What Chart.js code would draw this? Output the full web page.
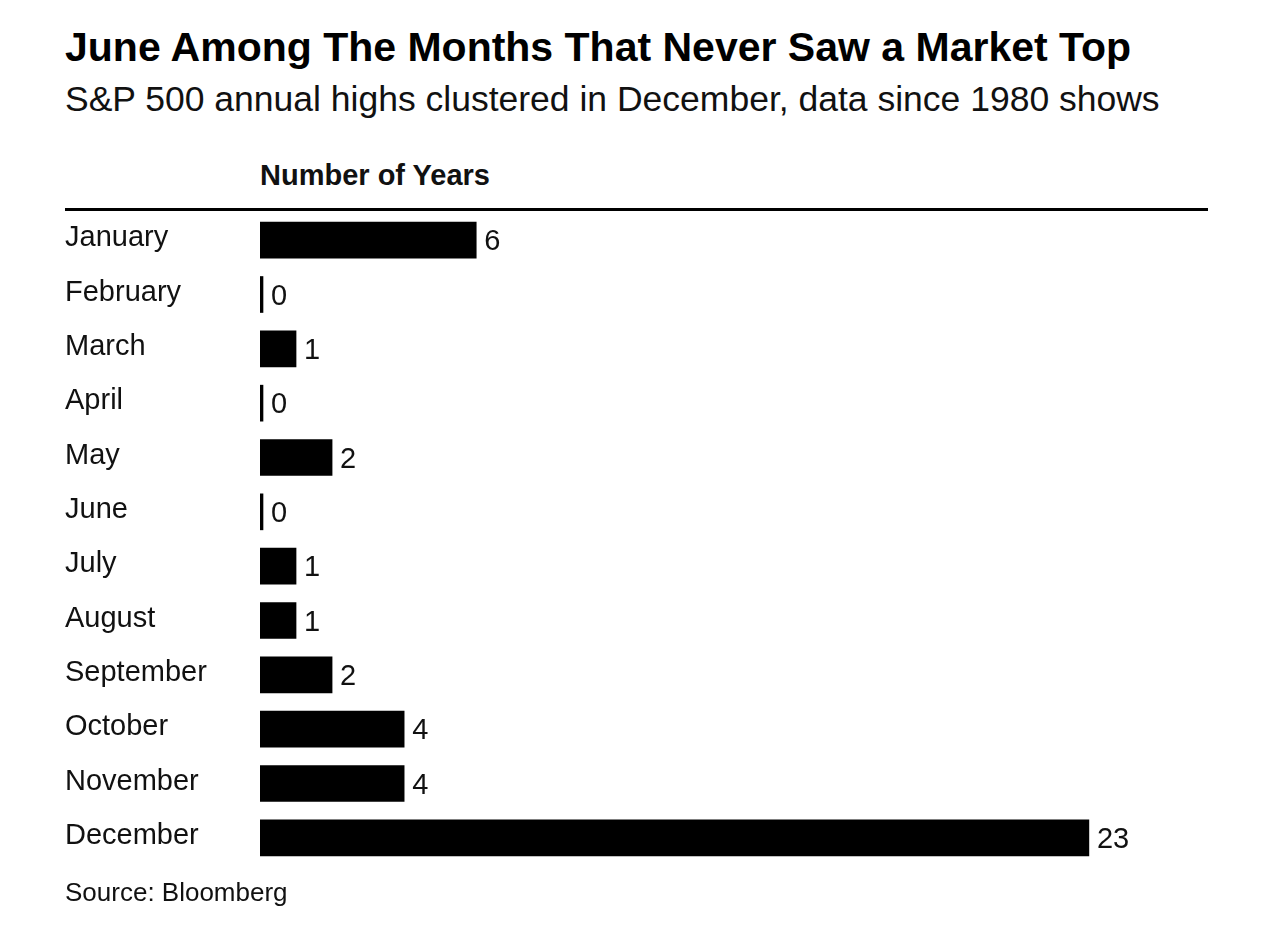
<!DOCTYPE html>
<html lang="en">
<head>
  <meta charset="UTF-8" />
  <title>June Among The Months That Never Saw a Market Top</title>
  <script src="https://cdn.jsdelivr.net/npm/chart.js@4"></script>
  <style>
    html, body { margin: 0; padding: 0; background: #fff; }
    body { width: 1280px; height: 947px; position: relative; overflow: hidden;
           font-family: "Liberation Sans", Arial, sans-serif; color: #000; }
    .txt { position: absolute; line-height: 1; white-space: nowrap; }
    #title { left: 65px; top: 27px; font-size: 41px; font-weight: bold; }
    #subtitle { left: 65px; top: 82px; font-size: 35.5px; color: #111; }
    #header { left: 260px; top: 161px; font-size: 29px; font-weight: bold; color: #111; }
    #rule { position: absolute; left: 65px; top: 208px; width: 1143px; height: 3px; background: #000; }
    #source { left: 65px; top: 879px; font-size: 26px; color: #111; }
    #chart { position: absolute; left: 0; top: 0; }
  </style>
</head>
<body>
  <div id="title" class="txt">June Among The Months That Never Saw a Market Top</div>
  <div id="subtitle" class="txt">S&amp;P 500 annual highs clustered in December, data since 1980 shows</div>
  <div id="header" class="txt">Number of Years</div>
  <div id="rule"></div>
  <canvas id="chart" width="1280" height="947"></canvas>
  <div id="source" class="txt">Source: Bloomberg</div>

  <script>
    const months = ['January', 'February', 'March', 'April', 'May', 'June',
                    'July', 'August', 'September', 'October', 'November', 'December'];
    const yearsWithHigh = [6, 0, 1, 0, 2, 0, 1, 1, 2, 4, 4, 23];

    // value written just right of each bar
    const valueLabels = {
      id: 'valueLabels',
      afterDatasetsDraw(chart) {
        const ctx = chart.ctx;
        const meta = chart.getDatasetMeta(0);
        ctx.save();
        ctx.font = '29px "Liberation Sans", Arial, sans-serif';
        ctx.fillStyle = '#111';
        ctx.textAlign = 'left';
        ctx.textBaseline = 'middle';
        meta.data.forEach((bar, i) => {
          ctx.fillText(String(yearsWithHigh[i]), bar.x + 8, bar.y + 2);
        });
        ctx.restore();
      }
    };

    new Chart(document.getElementById('chart').getContext('2d'), {
      type: 'bar',
      data: {
        labels: months,
        datasets: [{
          data: yearsWithHigh,
          backgroundColor: '#000',
          borderWidth: 0,
          barThickness: 36,
          minBarLength: 3
        }]
      },
      options: {
        indexAxis: 'y',
        responsive: false,
        animation: false,
        layout: { padding: { top: 213, bottom: 82, left: 65, right: 83 } },
        plugins: { legend: { display: false }, tooltip: { enabled: false } },
        scales: {
          x: { display: false, min: 0, max: 26 },
          y: {
            grid: { display: false },
            border: { display: false },
            afterFit(scale) { scale.width = 195; },
            ticks: {
              crossAlign: 'far',
              labelOffset: -2,
              color: '#111',
              font: { family: '"Liberation Sans", Arial, sans-serif', size: 29 }
            }
          }
        }
      },
      plugins: [valueLabels]
    });
  </script>
</body>
</html>
